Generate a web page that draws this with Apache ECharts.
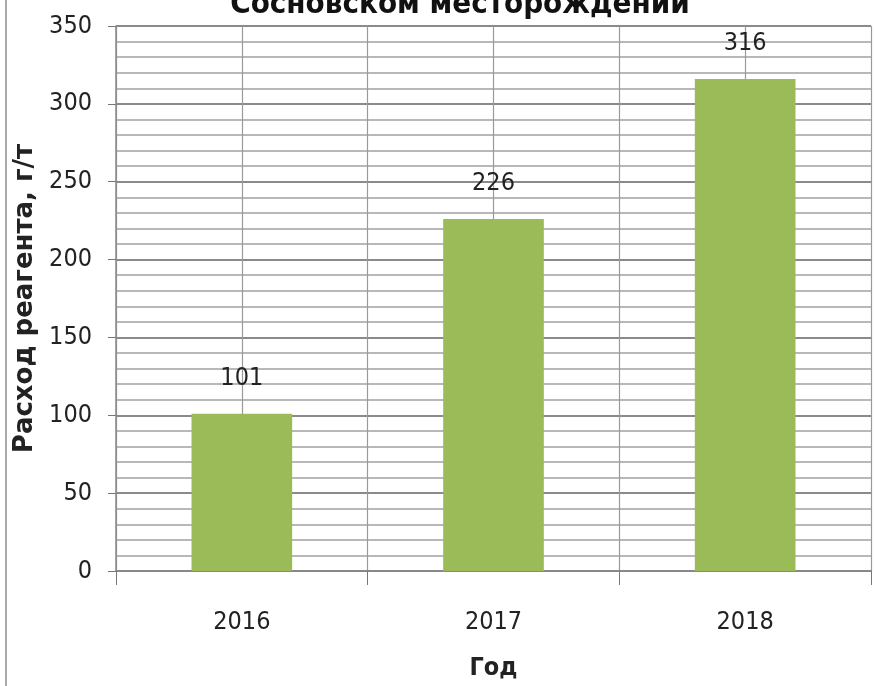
<!DOCTYPE html>
<html>
<head>
<meta charset="utf-8">
<script src="https://cdn.jsdelivr.net/npm/echarts@6/dist/echarts.min.js"></script>
<style>
  html, body { margin: 0; padding: 0; background: #fff; }
  #chart { width: 875px; height: 686px; }
</style>
</head>
<body>
<div id="chart"></div>
<script>
// Reagent consumption per year
const years = ['2016', '2017', '2018'];
const consumption = [101, 226, 316];
const titleText = 'Сосновском месторождении';
const yAxisTitle = 'Расход реагента, г/т';
const xAxisTitle = 'Год';

const numFont = '"DejaVu Sans Condensed", "DejaVu Sans", sans-serif';
const boldFont = '"DejaVu Sans", sans-serif';

const chart = echarts.init(document.getElementById('chart'), null, { renderer: 'canvas' });

chart.setOption({
  animation: false,
  backgroundColor: '#ffffff',
  grid: { left: 116, right: 4, top: 26, bottom: 109, containLabel: false },
  xAxis: [
    {
      type: 'category',
      data: years,
      boundaryGap: true,
      axisLine: { show: true, lineStyle: { color: '#888', width: 1.5 } },
      axisTick: { show: true, length: 14, lineStyle: { color: '#777', width: 1 } },
      axisLabel: {
        margin: 39,
        fontFamily: numFont,
        fontSize: 25,
        color: '#222'
      },
      splitLine: { show: false },
      name: xAxisTitle,
      nameLocation: 'middle',
      nameGap: 85,
      nameTextStyle: {
        fontFamily: numFont,
        fontWeight: 'bold',
        fontSize: 25,
        color: '#222'
      }
    },
    {
      // half-category guide lines (boundaries and centres of each year)
      type: 'value',
      min: 0,
      max: years.length * 2,
      interval: 1,
      show: true,
      axisLine: { show: false },
      axisTick: { show: false },
      axisLabel: { show: false },
      splitLine: { show: true, lineStyle: { color: '#9a9a9a', width: 1.2 } }
    }
  ],
  yAxis: {
    type: 'value',
    min: 0,
    max: 350,
    interval: 50,
    axisLine: { show: true, lineStyle: { color: '#888', width: 1.5 } },
    axisTick: { show: true, length: 8, lineStyle: { color: '#777' } },
    axisLabel: {
      margin: 24,
      fontFamily: numFont,
      fontSize: 25,
      color: '#222'
    },
    minorTick: { show: false, splitNumber: 5 },
    splitLine: { show: true, lineStyle: { color: '#8a8a8a', width: 2 } },
    minorSplitLine: { show: true, lineStyle: { color: '#b8b8b8', width: 2 } },
    name: yAxisTitle,
    nameLocation: 'middle',
    nameGap: 77,
    nameRotate: 90,
    nameTextStyle: {
      fontFamily: boldFont,
      fontWeight: 'bold',
      fontSize: 26,
      color: '#222'
    }
  },
  series: [
    {
      type: 'bar',
      xAxisIndex: 0,
      data: consumption,
      barWidth: '40%',
      itemStyle: { color: '#9bbb59' },
      label: {
        show: true,
        position: 'top',
        distance: 23,
        fontFamily: numFont,
        fontSize: 25,
        color: '#222'
      },
      z: 3
    }
  ],
  graphic: [
    {
      type: 'line',
      shape: { x1: 6, y1: 0, x2: 6, y2: 686 },
      style: { stroke: '#8c8c8c', lineWidth: 1.5 }
    },
    {
      // title line, partly above the top edge of the canvas
      type: 'text',
      x: 460,
      y: 20,
      style: {
        text: titleText,
        textAlign: 'center',
        textVerticalAlign: 'bottom',
        font: 'bold 31px "DejaVu Sans Condensed", sans-serif',
        fill: '#111'
      }
    }
  ]
});
</script>
</body>
</html>
